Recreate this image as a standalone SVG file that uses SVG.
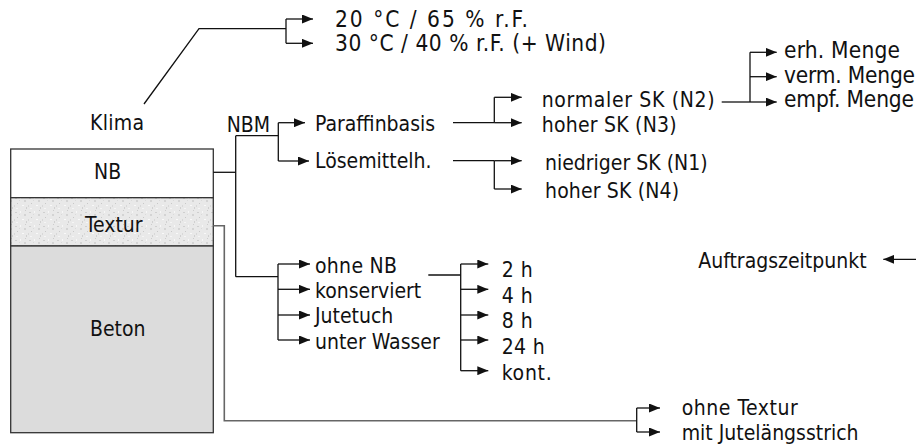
<svg xmlns="http://www.w3.org/2000/svg" width="916" height="445" viewBox="0 0 916 445">
<style>
text{font-family:"DejaVu Sans Condensed","DejaVu Sans",sans-serif;font-size:21px;fill:#111}
text.l{font-size:22.5px}
.c{fill:none;stroke:#111;stroke-width:1.3}
.g{fill:none;stroke:#666;stroke-width:1.6}
.a{marker-end:url(#ah)}
</style>
<defs>
<marker id="ah" markerUnits="userSpaceOnUse" markerWidth="11" markerHeight="9" refX="11" refY="4.5" orient="auto">
<path d="M0,0 L11,4.5 L0,9 z" fill="#111"/>
</marker>
<pattern id="tex" width="14" height="14" patternUnits="userSpaceOnUse">
<rect width="14" height="14" fill="#e9e9e9"/>
<rect x="1" y="2" width="2" height="1" fill="#cfcfcf"/>
<rect x="6" y="1" width="1" height="2" fill="#f7f7f7"/>
<rect x="10" y="4" width="2" height="2" fill="#d4d4d4"/>
<rect x="3" y="7" width="1" height="1" fill="#c8c8c8"/>
<rect x="8" y="9" width="2" height="1" fill="#f9f9f9"/>
<rect x="12" y="11" width="1" height="2" fill="#d0d0d0"/>
<rect x="2" y="12" width="2" height="1" fill="#f5f5f5"/>
<rect x="5" y="4" width="1" height="1" fill="#dadada"/>
<rect x="11" y="0" width="1" height="1" fill="#cccccc"/>
<rect x="0" y="9" width="1" height="2" fill="#d8d8d8"/>
</pattern>
</defs>
<g id="layers">
<g id="node-nb"><rect x="10.7" y="149" width="202.6" height="48.7" fill="#fff" stroke="#333" stroke-width="1.3"/><text x="94" y="179">NB</text></g>
<g id="node-textur"><rect x="10.7" y="197.7" width="202.6" height="48.3" fill="url(#tex)" stroke="#333" stroke-width="1.3"/><text x="85" y="231.7">Textur</text></g>
<g id="node-beton"><rect x="10.7" y="246" width="202.6" height="186.7" fill="#dcdcdc" stroke="#333" stroke-width="1.3"/><text x="90" y="335.7">Beton</text></g>
</g>
<g id="connectors">
<polyline class="c" points="144,104 199,28.7 286,28.7"/>
<line class="c" x1="286" y1="19" x2="286" y2="43.3"/>
<line class="c a" x1="286" y1="19" x2="313" y2="19"/>
<line class="c a" x1="286" y1="43.3" x2="313" y2="43.3"/>
<polyline class="c" points="213.3,172.3 235.7,172.3"/>
<line class="c" x1="235.7" y1="135.7" x2="235.7" y2="276.7"/>
<line class="c" x1="235.7" y1="135.7" x2="278.3" y2="135.7"/>
<line class="c" x1="278.3" y1="122.7" x2="278.3" y2="161"/>
<line class="c a" x1="278.3" y1="122.7" x2="305" y2="122.7"/>
<line class="c a" x1="278.3" y1="161" x2="309" y2="161"/>
<line class="c" x1="235.7" y1="276.7" x2="278" y2="276.7"/>
<line class="c" x1="278" y1="264" x2="278" y2="340"/>
<line class="c a" x1="278" y1="264" x2="310" y2="264"/>
<line class="c a" x1="278" y1="289.3" x2="310" y2="289.3"/>
<line class="c a" x1="278" y1="315" x2="310" y2="315"/>
<line class="c a" x1="278" y1="340" x2="310" y2="340"/>
<line class="c" x1="453" y1="122.7" x2="494.3" y2="122.7"/>
<line class="c" x1="494.3" y1="97.3" x2="494.3" y2="122.7"/>
<line class="c a" x1="494.3" y1="97.3" x2="521.7" y2="97.3"/>
<line class="c a" x1="494.3" y1="122.7" x2="521.7" y2="122.7"/>
<line class="c" x1="453" y1="160.7" x2="494.3" y2="160.7"/>
<line class="c" x1="494.3" y1="160.7" x2="494.3" y2="189"/>
<line class="c a" x1="494.3" y1="160.7" x2="521.7" y2="160.7"/>
<line class="c a" x1="494.3" y1="189" x2="521.7" y2="189"/>
<line class="c" x1="721.7" y1="102" x2="750" y2="102"/>
<line class="c" x1="750" y1="52.3" x2="750" y2="102"/>
<line class="c a" x1="750" y1="52.3" x2="776.7" y2="52.3"/>
<line class="c a" x1="750" y1="76.7" x2="776.7" y2="76.7"/>
<line class="c a" x1="750" y1="102" x2="776.7" y2="102"/>
<line class="c" x1="428.3" y1="275" x2="460.7" y2="275"/>
<line class="c" x1="460.7" y1="264" x2="460.7" y2="370.7"/>
<line class="c a" x1="460.7" y1="264" x2="488.3" y2="264"/>
<line class="c a" x1="460.7" y1="289.3" x2="488.3" y2="289.3"/>
<line class="c a" x1="460.7" y1="315" x2="488.3" y2="315"/>
<line class="c a" x1="460.7" y1="340" x2="488.3" y2="340"/>
<line class="c a" x1="460.7" y1="370.7" x2="488.3" y2="370.7"/>
<line class="c a" x1="916" y1="259.3" x2="883.3" y2="259.3"/>
<polyline class="g" points="213.3,225.7 224.3,225.7 224.3,420.7 636.7,420.7"/>
<line class="c" x1="636.7" y1="408" x2="636.7" y2="432"/>
<line class="c a" x1="636.7" y1="408" x2="660" y2="408"/>
<line class="c a" x1="636.7" y1="432" x2="660" y2="432"/>
</g>
<g id="labels">
<text class="l" x="335" y="26.7" textLength="193" lengthAdjust="spacing">20 °C / 65 % r.F.</text>
<text class="l" x="335" y="51" textLength="271" lengthAdjust="spacing">30 °C / 40 % r.F. (+ Wind)</text>
<text x="90" y="130" textLength="54" lengthAdjust="spacing">Klima</text>
<text x="226.7" y="131.7">NBM</text>
<text x="315" y="130.7">Paraffinbasis</text>
<text x="315" y="168.3">Lösemittelh.</text>
<text x="541.7" y="106.7" textLength="173" lengthAdjust="spacing">normaler SK (N2)</text>
<text x="541.7" y="131.7" textLength="135" lengthAdjust="spacing">hoher SK (N3)</text>
<text x="545" y="170">niedriger SK (N1)</text>
<text x="545" y="198.3" textLength="134" lengthAdjust="spacing">hoher SK (N4)</text>
<text class="l" x="784" y="58" textLength="116" lengthAdjust="spacing">erh. Menge</text>
<text class="l" x="784" y="83.3" textLength="131" lengthAdjust="spacing">verm. Menge</text>
<text class="l" x="784" y="106.7" textLength="130" lengthAdjust="spacing">empf. Menge</text>
<text x="315" y="273.3" textLength="82" lengthAdjust="spacing">ohne NB</text>
<text x="315" y="298.3">konserviert</text>
<text x="315" y="323.3">Jutetuch</text>
<text x="315" y="349">unter Wasser</text>
<text x="501.7" y="276.7" textLength="31" lengthAdjust="spacing">2 h</text>
<text x="501.7" y="302.7" textLength="31" lengthAdjust="spacing">4 h</text>
<text x="501.7" y="328.3" textLength="31" lengthAdjust="spacing">8 h</text>
<text x="501.7" y="354" textLength="43" lengthAdjust="spacing">24 h</text>
<text x="501.7" y="380" textLength="50" lengthAdjust="spacing">kont.</text>
<text x="698.3" y="268.3">Auftragszeitpunkt</text>
<text x="681.7" y="415" textLength="116" lengthAdjust="spacing">ohne Textur</text>
<text x="681.7" y="440">mit Jutelängsstrich</text>
</g>
</svg>
